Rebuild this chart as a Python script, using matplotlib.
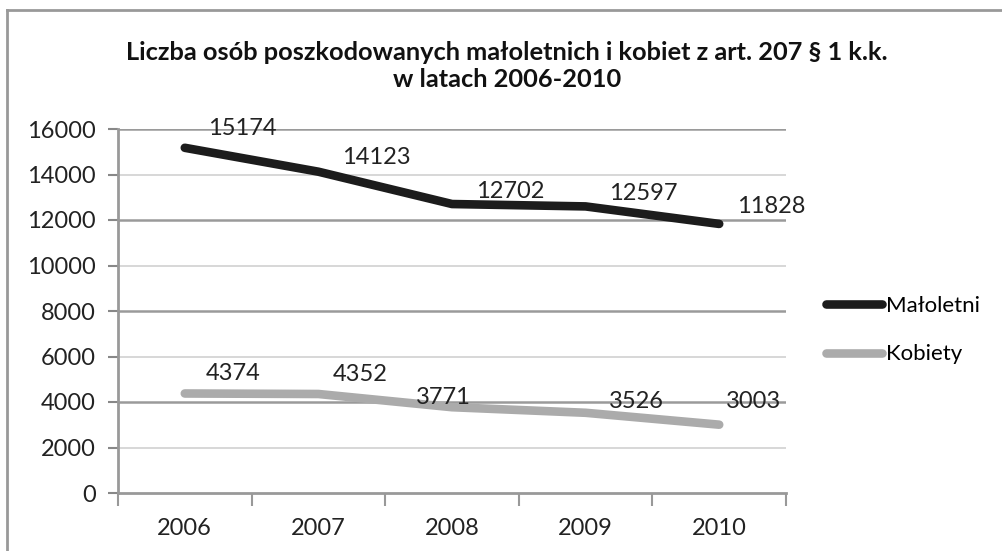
import matplotlib
matplotlib.use("Agg")
import matplotlib.pyplot as plt
from matplotlib.lines import Line2D
import numpy as np

plt.rcParams['font.family'] = ['Lato', 'DejaVu Sans']

years = ["2006", "2007", "2008", "2009", "2010"]
maloletni = [15174, 14123, 12702, 12597, 11828]
kobiety = [4374, 4352, 3771, 3526, 3003]
title = "Liczba osób poszkodowanych małoletnich i kobiet z art. 207 § 1 k.k.\nw latach 2006-2010"

# label offsets in pixels (style only)
off_m = [(57, 19), (58, 14), (58, 13), (58, 13), (52, 17)]
off_k = [(48, 20), (42, 19), (-9, 10), (51, 11), (34, 23)]

W, H = 1002, 551
fig = plt.figure(figsize=(W / 100, H / 100), dpi=100)
ax = fig.add_axes([118 / W, 1 - 493 / H, (786 - 118) / W, (493 - 129) / H])

x = np.arange(len(years))
ax.plot(x, maloletni, color="#1c1c1c", lw=6.2, solid_capstyle="round",
        solid_joinstyle="round", label="Małoletni", zorder=3)
ax.plot(x, kobiety, color="#ababab", lw=6.2, solid_capstyle="round",
        solid_joinstyle="round", label="Kobiety", zorder=3)

px = 72 / 100
for xi, v, (dx, dy) in zip(x, maloletni, off_m):
    ax.annotate(str(v), (xi, v), xytext=(dx * px, dy * px), textcoords="offset points",
                ha="center", va="center", fontsize=17, color="#222222", zorder=4)
for xi, v, (dx, dy) in zip(x, kobiety, off_k):
    ax.annotate(str(v), (xi, v), xytext=(dx * px, dy * px), textcoords="offset points",
                ha="center", va="center", fontsize=17, color="#222222", zorder=4)

ax.set_xlim(-0.5, 4.5)
ax.set_ylim(0, 16000)
ax.set_yticks(np.arange(0, 16001, 2000))
ax.tick_params(axis="y", labelsize=17, colors="#888888", labelcolor="#222222",
               length=7, width=1.5, direction="out", pad=9)
for yv in np.arange(2000, 16001, 2000):
    if yv % 4000 == 0:
        ax.axhline(yv, color="#9a9a9a", lw=1.8, zorder=1)
    else:
        ax.axhline(yv, color="#d4d4d4", lw=1.3, zorder=1)

ax.set_xticks(x)
ax.set_xticklabels(years)
ax.set_xticks(np.arange(-0.5, 4.6, 1), minor=True)
ax.tick_params(axis="x", which="major", length=0, labelsize=17, labelcolor="#222222", pad=18)
ax.tick_params(axis="x", which="minor", length=9, width=1.5, color="#999999", direction="out")

for s in ["top", "right"]:
    ax.spines[s].set_visible(False)
for s in ["left", "bottom"]:
    ax.spines[s].set_color("#999999")
    ax.spines[s].set_linewidth(2)

fig.text(507 / W, 1 - 66 / H, title, ha="center", va="center", fontsize=18.3,
         fontweight="bold", color="#111111", linespacing=1.25)

leg = ax.legend(loc="center left", bbox_to_anchor=(806 / W, 1 - 330 / H),
                bbox_transform=fig.transFigure, frameon=False, fontsize=16,
                handlelength=2.5, handletextpad=0.2, labelspacing=1.3)

fig.add_artist(Line2D([7 / W, 7 / W], [0, 1 - 10 / H], transform=fig.transFigure,
                      color="#999999", lw=2))
fig.add_artist(Line2D([7 / W, 1], [1 - 10 / H, 1 - 10 / H], transform=fig.transFigure,
                      color="#999999", lw=2))

fig.savefig("out.png", dpi=100)
